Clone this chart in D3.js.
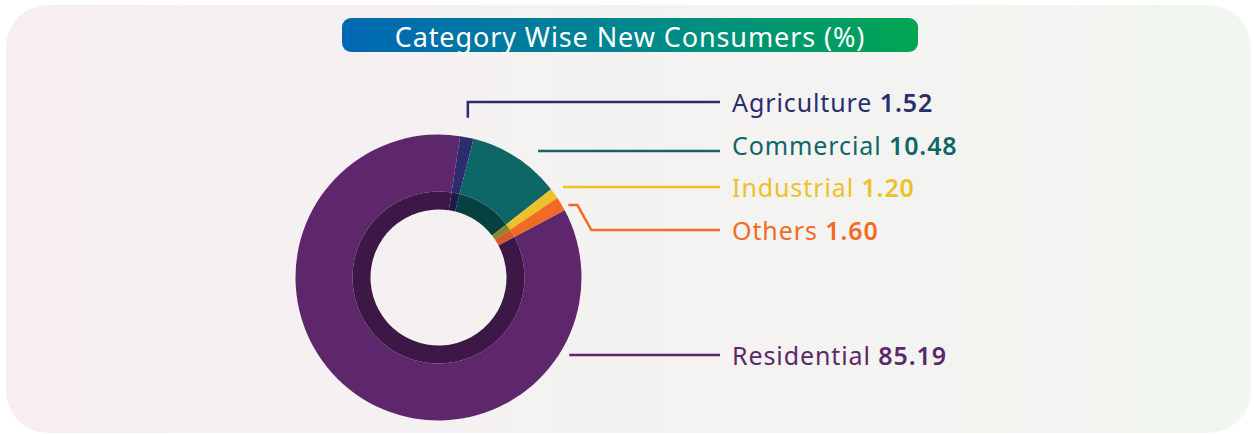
<!DOCTYPE html>
<html>
<head>
<meta charset="utf-8">
<script src="https://cdn.jsdelivr.net/npm/d3@7"></script>
<style>
  html, body { margin: 0; padding: 0; background: #ffffff; }
  svg { display: block; font-family: "Noto Sans", "Open Sans", sans-serif; }
</style>
</head>
<body>
<svg width="1254" height="434"></svg>
<script>

// data
let categories = ["Agriculture", "Commercial", "Industrial", "Others", "Residential"];
let shares     = [1.52, 10.48, 1.20, 1.60, 85.19];
let valueText  = ["1.52", "10.48", "1.20", "1.60", "85.19"];
let colours    = ["#2b2d6e", "#0e6766", "#ecc12a", "#f26b24", "#5e276b"];
let darkRing   = ["#1c1b4b", "#074040", "#83892f", "#d65a29", "#3d1745"];

// label layout
let labelY  = [102, 145, 187, 230, 355];
let startR  = [163, 161, 154, 149, 152];

let svg = d3.select('svg');
let width  = +svg.attr('width');
let height = +svg.attr('height');

let defs = svg.append('defs');

// card background
let bg = defs.append('linearGradient').attr('id', 'bg')
    .attr('x1', 0).attr('x2', 1).attr('y1', 0).attr('y2', 0);
bg.append('stop').attr('offset', '0%').attr('stop-color', '#f6eef2');
bg.append('stop').attr('offset', '50%').attr('stop-color', '#f4f2f1');
bg.append('stop').attr('offset', '100%').attr('stop-color', '#f1f6f0');

svg.append('rect')
    .attr('x', 6).attr('y', 5)
    .attr('width', width - 9).attr('height', height - 6)
    .attr('rx', 42).attr('ry', 42)
    .attr('fill', 'url(#bg)');

// title pill
let tg = defs.append('linearGradient').attr('id', 'title')
    .attr('x1', 0).attr('x2', 1).attr('y1', 0).attr('y2', 0);
tg.append('stop').attr('offset', '0%').attr('stop-color', '#0068b4');
tg.append('stop').attr('offset', '50%').attr('stop-color', '#00878f');
tg.append('stop').attr('offset', '100%').attr('stop-color', '#00a651');

svg.append('rect')
    .attr('x', 342).attr('y', 18)
    .attr('width', 576).attr('height', 34)
    .attr('rx', 9)
    .attr('fill', 'url(#title)');

svg.append('text')
    .attr('x', 630).attr('y', 36)
    .attr('text-anchor', 'middle')
    .attr('dominant-baseline', 'central')
    .style('font-size', '27px')
    .style('letter-spacing', '0.9px')
    .style('fill', '#ffffff')
    .text('Category Wise New Consumers (%)');

// donut
let cx = 438.5, cy = 277.5;
let start = 0.152;

let pie = d3.pie()
    .sort(null)
    .value(d => d)
    .startAngle(start)
    .endAngle(start + 2 * Math.PI);

let arcs = pie(shares);

let outer = d3.arc().innerRadius(86).outerRadius(143);
let inner = d3.arc().innerRadius(68).outerRadius(86);

let g = svg.append('g').attr('transform', 'translate(' + cx + ',' + cy + ')');

g.selectAll('path.outer')
    .data(arcs)
    .enter().append('path')
    .attr('class', 'outer')
    .attr('d', outer)
    .attr('fill', (d, i) => colours[i]);

g.selectAll('path.inner')
    .data(arcs)
    .enter().append('path')
    .attr('class', 'inner')
    .attr('d', inner)
    .attr('fill', (d, i) => darkRing[i]);

// leader lines
function polar(a, r) {
    return [cx + r * Math.sin(a), cy - r * Math.cos(a)];
}

let lineEnd = 720;

let leaders = arcs.map(function (d, i) {
    let mid = (d.startAngle + d.endAngle) / 2;
    let p = polar(mid, startR[i]);
    let y = labelY[i];
    if (categories[i] === 'Agriculture') {
        return [[p[0] - 3, p[1]], [p[0] - 3, y], [lineEnd, y]];
    }
    if (categories[i] === 'Others') {
        return [[p[0] + 2, p[1] + 4], [p[0] + 11, p[1] + 4], [p[0] + 25, y], [lineEnd, y]];
    }
    let ly = categories[i] === 'Commercial' ? y + 6 : y;
    let x = cx + Math.sqrt(startR[i] * startR[i] - (ly - cy) * (ly - cy));
    return [[x, ly], [lineEnd, ly]];
});

svg.append('g')
    .selectAll('path')
    .data(leaders)
    .enter().append('path')
    .attr('d', d => d3.line()(d))
    .attr('fill', 'none')
    .attr('stroke', (d, i) => colours[i])
    .attr('stroke-width', 2.5);

// labels
let labels = svg.append('g')
    .selectAll('text')
    .data(categories)
    .enter().append('text')
    .attr('x', 732)
    .attr('y', (d, i) => labelY[i])
    .attr('dominant-baseline', 'central')
    .style('font-size', '25px')
    .style('letter-spacing', '0.9px')
    .style('fill', (d, i) => colours[i]);

labels.append('tspan').text(d => d + ' ');
labels.append('tspan')
    .style('font-weight', '600')
    .text((d, i) => valueText[i]);

</script>
</body>
</html>
